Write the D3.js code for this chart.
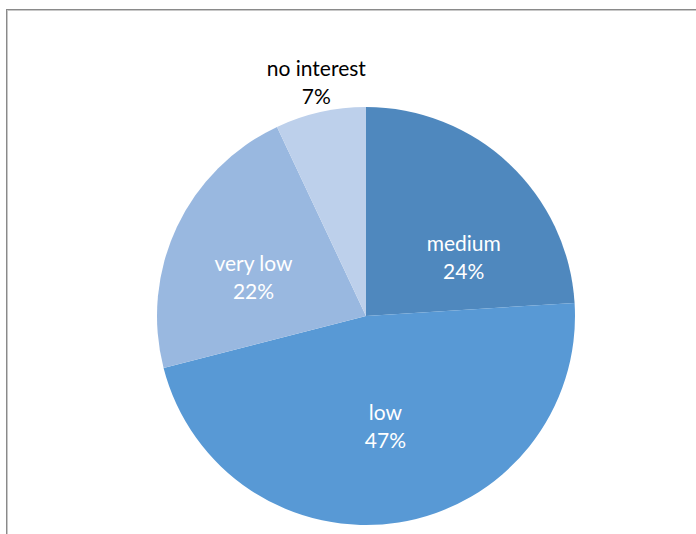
<!DOCTYPE html>
<html>
<head>
<meta charset="utf-8">
<script src="https://cdn.jsdelivr.net/npm/d3@7"></script>
<style>
  html, body { margin: 0; padding: 0; background: #fff; }
  svg { display: block; }
</style>
</head>
<body>
<svg id="chart" width="696" height="534"></svg>
<script>
// Interest level shares (percent)
const categories = ["medium", "low", "very low", "no interest"];
const shares = [24, 47, 22, 7];
const sliceColors = ["#4f88be", "#5899d5", "#99b8e0", "#bdd0eb"];
const labelColors = ["#ffffff", "#ffffff", "#ffffff", "#000000"];

// Label anchor placement: angle (deg, clockwise from 12 o'clock) and distance from centre
const labelPlacement = [
  { angle: 59, dist: 114 },
  { angle: 170, dist: 112 },
  { angle: 289, dist: 119 },
  { angle: 348, dist: 239 }
];

const svg = d3.select("#chart");
const W = 696, H = 534;
const cx = 366, cy = 316, R = 209;

// Frame lines (top and left edges)
svg.append("line").attr("x1", 6.5).attr("x2", W).attr("y1", 9.5).attr("y2", 9.5)
  .attr("stroke", "#8a8a8a").attr("stroke-width", 1);
svg.append("line").attr("x1", 6).attr("x2", W).attr("y1", 10.5).attr("y2", 10.5)
  .attr("stroke", "#c8c8c8").attr("stroke-width", 1);
svg.append("line").attr("x1", 6.5).attr("x2", 6.5).attr("y1", 9).attr("y2", H)
  .attr("stroke", "#8a8a8a").attr("stroke-width", 1);
svg.append("line").attr("x1", 7.5).attr("x2", 7.5).attr("y1", 10).attr("y2", H)
  .attr("stroke", "#c8c8c8").attr("stroke-width", 1);

const data = categories.map((c, i) => ({ name: c, value: shares[i], i }));

const pie = d3.pie().value(d => d.value).sort(null);
const arc = d3.arc().innerRadius(0).outerRadius(R);
const arcs = pie(data);

const g = svg.append("g").attr("transform", `translate(${cx},${cy})`);

g.selectAll("path.slice")
  .data(arcs)
  .join("path")
  .attr("class", "slice")
  .attr("d", arc)
  .attr("fill", d => sliceColors[d.data.i]);

const fmt = v => `${v}%`;

const labels = g.selectAll("g.label")
  .data(arcs)
  .join("g")
  .attr("class", "label")
  .attr("transform", d => {
    const p = labelPlacement[d.data.i];
    const a = p.angle * Math.PI / 180;
    return `translate(${p.dist * Math.sin(a)},${-p.dist * Math.cos(a)})`;
  });

labels.append("text")
  .attr("text-anchor", "middle")
  .attr("font-family", "Lato, 'Open Sans', sans-serif")
  .attr("font-size", 21)
  .attr("fill", d => labelColors[d.data.i])
  .selectAll("tspan")
  .data(d => [d.data.name, fmt(d.data.value)])
  .join("tspan")
  .attr("x", 0)
  .attr("y", (t, k) => k === 0 ? -6 : 22)
  .text(t => t);
</script>
</body>
</html>
